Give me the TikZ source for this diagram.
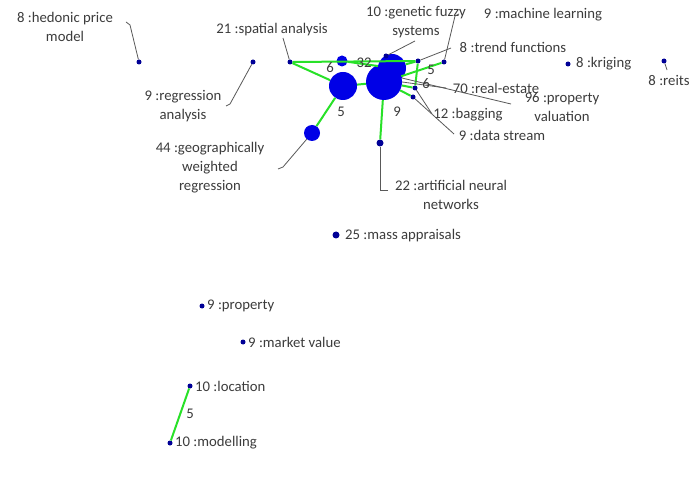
\documentclass[tikz,border=0pt]{standalone}
\usepackage{fontspec}
\setmainfont{Carlito}
\usetikzlibrary{arrows,shapes}
\definecolor{dotblue}{RGB}{0,0,150}
\definecolor{bigblue}{RGB}{0,0,230}
\definecolor{edgegreen}{RGB}{40,225,40}
\definecolor{txtgray}{RGB}{60,60,60}
\begin{document}
\begin{tikzpicture}[x=1bp, y=-1bp,
    roundnode/.style={circle, fill=dotblue, inner sep=0pt, minimum size=5bp},
    bignode/.style={circle, fill=bigblue, inner sep=0pt, minimum size=#1},
    txt/.style={text=txtgray, font=\fontsize{14.8}{19}\selectfont, inner sep=0pt, align=center},
    link/.style={draw=edgegreen, line width=2bp},
    lead/.style={draw=txtgray!85, line width=0.8bp}]

    \useasboundingbox[fill=white] (0,0) rectangle (697,484);

    %\node[roundnode](u0) at (0,0) {};
    \node[roundnode](u1) at (139,62) {};
    \node[roundnode](u2) at (253,62) {};
    \node[roundnode](u3) at (290,62) {};
    \node[bignode=11bp](u4) at (342,61) {};
    \node[bignode=28bp](u5) at (343,86) {};
    \node[bignode=36bp](u6) at (384,82) {};
    \node[bignode=28bp](u21) at (392,68) {};
    \node[roundnode](u20) at (386,56) {};
    \node[roundnode](u7) at (418,61) {};
    \node[roundnode](u8) at (444,62) {};
    \node[roundnode](u9) at (415,88) {};
    \node[roundnode](u10) at (413,97) {};
    \node[bignode=16bp](u11) at (312,133) {};
    \node[roundnode, minimum size=7bp](u12) at (380,143) {};
    \node[roundnode, minimum size=7bp](u13) at (336,235) {};
    \node[roundnode](u14) at (568,64) {};
    \node[roundnode](u15) at (664,61) {};
    \node[roundnode](u16) at (202,306) {};
    \node[roundnode](u17) at (243,342) {};
    \node[roundnode](u18) at (190,386) {};
    \node[roundnode](u19) at (170,443) {};

    % labels
    \node[txt](l1) at (65,27) {8 :hedonic price\\model};
    \node[txt](l2) at (183,106) {9 :regression\\analysis};
    \node[txt](l3) at (272,30) {21 :spatial analysis};
    \node[txt](l4) at (416,22) {10 :genetic fuzzy\\systems};
    \node[txt](l5) at (543,15) {9 :machine learning};
    \node[txt](l6) at (513,47) {8 :trend functions};
    \node[txt, anchor=west](l7) at (576,64) {8 :kriging};
    \node[txt](l8) at (669,80) {8 :reits};
    \node[txt](l9) at (496,88) {70 :real-estate};
    \node[txt](l10) at (562,107) {96 :property\\valuation};
    \node[txt](l11) at (468,115) {12 :bagging};
    \node[txt](l12) at (502,135) {9 :data stream};
    \node[txt](l13) at (210,168) {44 :geographically\\weighted\\regression};
    \node[txt](l14) at (451,195) {22 :artificial neural\\networks};
    \node[txt, anchor=west](l15) at (345,236) {25 :mass appraisals};
    \node[txt, anchor=west](l16) at (207,306) {9 :property};
    \node[txt, anchor=west](l17) at (248,342) {9 :market value};
    \node[txt, anchor=west](l18) at (195,386) {10 :location};
    \node[txt, anchor=west](l19) at (175,443) {10 :modelling};

    % leader ends
    \coordinate (c1) at (126,22);
    \coordinate (c2) at (226,106);
    \coordinate (c3) at (283,38);
    \coordinate (c4) at (415,41);
    \coordinate (c5) at (459,14);
    \coordinate (c6) at (451,48);
    \coordinate (c8) at (667,70);
    \coordinate (c9) at (446,88);
    \coordinate (c10) at (511,104);
    \coordinate (c11) at (432,114);
    \coordinate (c12) at (454,134);
    \coordinate (c13) at (278,169);
    \coordinate (c14) at (388,190);

        \draw[link] (u3) -- (u7);
        \draw[link] (u3) -- (u5);
        \draw[link] (u11) -- (u5);
        \draw[link] (u12) -- (u6);
        \draw[link] (u4) -- (u21);
        \draw[link] (u5) -- (u6);
        \draw[link] (u21) -- (u7);
        \draw[link] (u6) -- (u8);
        \draw[link] (u6) -- (u9);
        \draw[link] (u7) -- (u9);
        \draw[link] (u6) -- (u10);
        \draw[link] (u18) -- (u19);

        \draw[lead] (c1) -- ++(4,3) -- (u1);
        \draw[lead] (c2) -- ++(4,-2) -- (u2);
        \draw[lead] (c3) -- (u3);
        \draw[lead] (c4) -- (u20);
        \draw[lead] (c5) -- ++(-4,2) -- (u8);
        \draw[lead] (c6) -- (u7);
        \draw[lead] (c8) -- (u15);
        \draw[lead] (c9) -- (u6.east);
        \draw[lead] (c10) -- (u21.south east);
        \draw[lead] (c11) -- (u9);
        \draw[lead] (c12) -- (u10);
        \draw[lead] (c13) -- ++(5,-2) -- (u11);
        \draw[lead] (c14) -| (u12);

    % edge weights
    \node[txt](w1) at (330,68) {6};
    \node[txt](w2) at (364,63) {32};
    \node[txt](w3) at (341,112) {5};
    \node[txt](w4) at (397,112) {9};
    \node[txt](w5) at (431,70) {5};
    \node[txt](w6) at (426,84) {6};
    \node[txt](w7) at (190,414) {5};

\end{tikzpicture}
\end{document}
